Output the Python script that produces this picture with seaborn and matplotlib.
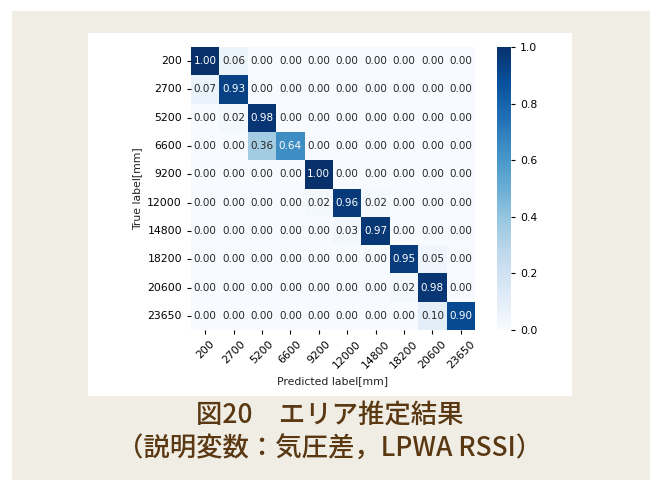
import matplotlib
matplotlib.use("Agg")
import matplotlib.pyplot as plt
from matplotlib.patches import Rectangle
import numpy as np
import seaborn as sns

# Area labels (distance along the route, mm)
labels = ["200", "2700", "5200", "6600", "9200", "12000", "14800", "18200", "20600", "23650"]

# Row-normalised confusion matrix (true area x predicted area)
row_200   = [1.00, 0.06, 0.00, 0.00, 0.00, 0.00, 0.00, 0.00, 0.00, 0.00]
row_2700  = [0.07, 0.93, 0.00, 0.00, 0.00, 0.00, 0.00, 0.00, 0.00, 0.00]
row_5200  = [0.00, 0.02, 0.98, 0.00, 0.00, 0.00, 0.00, 0.00, 0.00, 0.00]
row_6600  = [0.00, 0.00, 0.36, 0.64, 0.00, 0.00, 0.00, 0.00, 0.00, 0.00]
row_9200  = [0.00, 0.00, 0.00, 0.00, 1.00, 0.00, 0.00, 0.00, 0.00, 0.00]
row_12000 = [0.00, 0.00, 0.00, 0.00, 0.02, 0.96, 0.02, 0.00, 0.00, 0.00]
row_14800 = [0.00, 0.00, 0.00, 0.00, 0.00, 0.03, 0.97, 0.00, 0.00, 0.00]
row_18200 = [0.00, 0.00, 0.00, 0.00, 0.00, 0.00, 0.00, 0.95, 0.05, 0.00]
row_20600 = [0.00, 0.00, 0.00, 0.00, 0.00, 0.00, 0.00, 0.02, 0.98, 0.00]
row_23650 = [0.00, 0.00, 0.00, 0.00, 0.00, 0.00, 0.00, 0.00, 0.10, 0.90]

caption_1 = "図20　エリア推定結果"
caption_2 = "（説明変数：気圧差，LPWA RSSI）"

cm = np.array([row_200, row_2700, row_5200, row_6600, row_9200,
               row_12000, row_14800, row_18200, row_20600, row_23650])

plt.rcParams["font.family"] = ["DejaVu Sans"]

W, H = 650, 480
fig = plt.figure(figsize=(W / 100, H / 100), dpi=100)
fig.patch.set_facecolor("white")

def px_rect(x0, y0, x1, y1, color):
    fig.patches.append(Rectangle((x0 / W, 1 - y1 / H), (x1 - x0) / W, (y1 - y0) / H,
                                 transform=fig.transFigure, facecolor=color,
                                 edgecolor="none", zorder=-10))

# page background and white plot panel
px_rect(12, 11, 650, 480, "#f0ede5")
px_rect(88, 33, 572, 396, "white")

ax = fig.add_axes([191 / W, 1 - 330 / H, 284 / W, 283 / H])
cax = fig.add_axes([497 / W, 1 - 330 / H, 14 / W, 283 / H])

sns.heatmap(cm, annot=True, fmt=".2f", cmap="Blues", vmin=0, vmax=1,
            xticklabels=labels, yticklabels=labels, ax=ax, cbar_ax=cax,
            annot_kws={"fontsize": 7.5})

ax.set_xlabel("Predicted label[mm]", fontsize=7.8, color="#222222")
ax.set_ylabel("True label[mm]", fontsize=7.8, color="#222222")
ax.tick_params(axis="both", labelsize=7.8, length=3, width=0.8)
plt.setp(ax.get_xticklabels(), rotation=45, ha="center")
plt.setp(ax.get_yticklabels(), rotation=0)

cax.tick_params(labelsize=7.8, length=3, width=0.8)
cax.set_yticks([0.0, 0.2, 0.4, 0.6, 0.8, 1.0])

title_font = ["Noto Sans CJK JP", "DejaVu Sans"]
fig.text(330 / W, 1 - 415 / H, caption_1, ha="center", va="center",
         fontsize=19, fontweight="medium", color="#5a3812", family=title_font)
fig.text(330 / W, 1 - 449 / H, caption_2, ha="center", va="center",
         fontsize=19, fontweight="medium", color="#5a3812", family=title_font)

fig.savefig("out.png", dpi=100, facecolor=fig.get_facecolor())
